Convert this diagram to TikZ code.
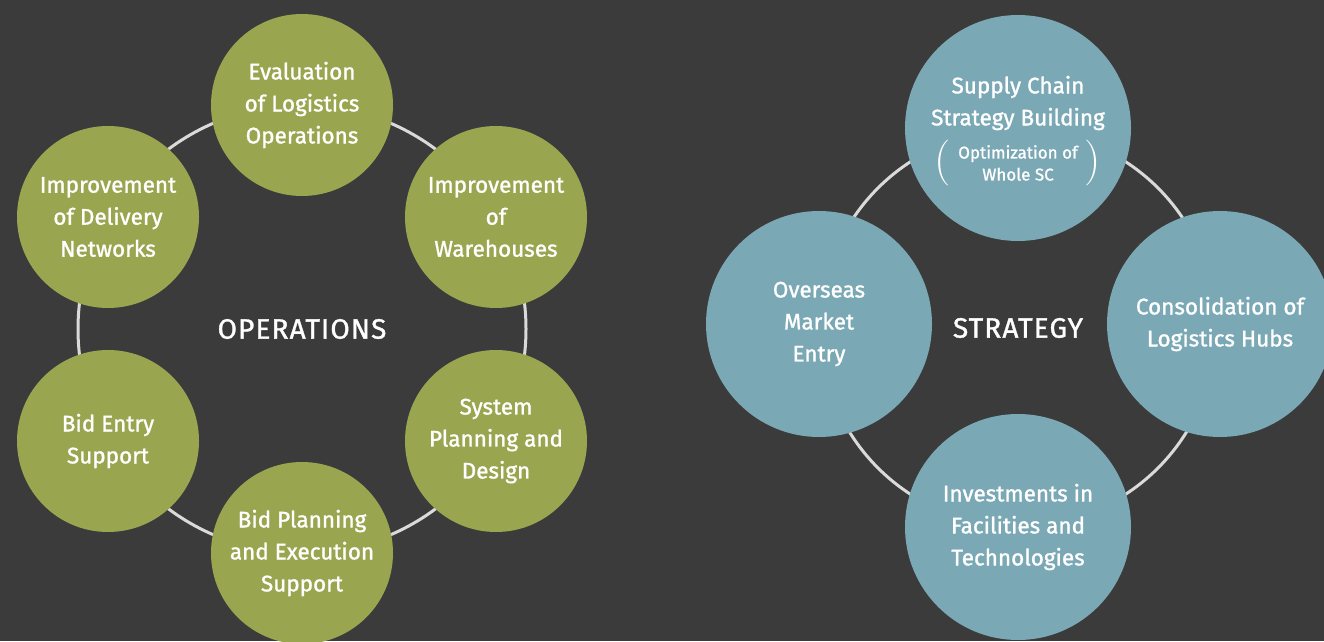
\documentclass[tikz,border=0pt]{standalone}
\usepackage{fontspec}
\setmainfont{Fira Sans}[FakeBold=1.2]
\usetikzlibrary{positioning}

\definecolor{bgdark}{HTML}{3B3B3B}
\definecolor{opsgreen}{HTML}{9AA64F}
\definecolor{stratblue}{HTML}{7AA8B4}
\definecolor{ringgray}{HTML}{DADADA}

\tikzset{
  ringline/.style={draw=ringgray, line width=3pt},
  opsball/.style={circle, fill=opsgreen, minimum size=182pt, inner sep=0pt,
    text=white, align=center, font=\fontsize{22.5}{32}\selectfont},
  stratball/.style={circle, fill=stratblue, minimum size=226pt, inner sep=0pt,
    text=white, align=center, font=\fontsize{22.5}{32}\selectfont},
  hubtext/.style={text=white, font=\fontsize{28}{30}\selectfont\addfontfeature{LetterSpace=4}},
  parentext/.style={text=white, font=\fontfamily{lmr}\fontsize{46}{46}\selectfont}
}

\begin{document}
\begin{tikzpicture}[x=1pt,y=1pt]
  \fill[bgdark] (0,0) rectangle (1324,641);
  \useasboundingbox (0,0) rectangle (1324,641);

  % operations ring
  \node[hubtext] (ops) at (302,312) {OPERATIONS};
  \draw[ringline] (ops.center) circle[radius=224];
  \begin{scope}[shift={(302,312)}]
    \draw
      (90:224) node[opsball] (eval) {Evaluation\\of Logistics\\Operations}
      (30:224) node[opsball] (whouse) {Improvement\\of\\Warehouses}
      (-30:224) node[opsball] (sysplan) {System\\Planning and\\Design}
      (-90:224) node[opsball] (bidplan) {Bid Planning\\and Execution\\Support}
      (-150:224) node[opsball] (bidentry) {Bid Entry\\Support}
      (150:224) node[opsball] (delivery) {Improvement\\of Delivery\\Networks};
  \end{scope}

  % strategy ring
  \node[hubtext] (strat) at (1018,313) {STRATEGY};
  \draw[ringline] (strat.center) circle[radius=198];
  \begin{scope}[shift={(1018,317)}]
    \draw
      (90:196) node[stratball] (scsb) {}
      (0:202) node[stratball] (hubs) {Consolidation of\\Logistics Hubs}
      (-90:203) node[stratball] (invest) {Investments in\\Facilities and\\Technologies}
      (180:199) node[stratball] (overseas) {Overseas\\Market\\Entry};
  \end{scope}
  \node[text=white, align=center, font=\fontsize{22.5}{32}\selectfont]
    (scsbtext) at ([yshift=25pt]scsb.center) {Supply Chain\\Strategy Building};
  \node[text=white, align=center, font=\fontsize{17}{22}\selectfont,
    below=8pt of scsbtext] (optsc) {Optimization of\\Whole SC};
  \node[parentext, left=0pt of optsc] (lparen) {(};
  \node[parentext, right=0pt of optsc] (rparen) {)};
\end{tikzpicture}
\end{document}
